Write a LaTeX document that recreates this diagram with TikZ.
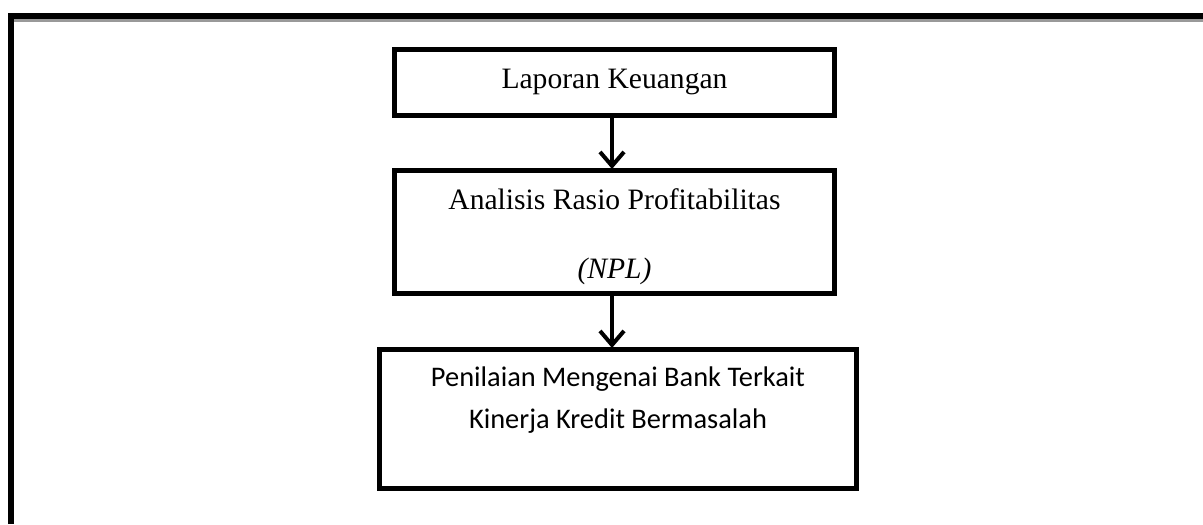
\documentclass[tikz,border=0pt]{standalone}
\usepackage{fontspec}
\setmainfont{Liberation Serif}
\newfontfamily\boxsans{Carlito}
\usetikzlibrary{arrows.meta}
\tikzset{
  flowbox/.style={draw=black,line width=2.5pt,inner sep=0pt,align=center},
  flowarrow/.style={line width=2pt,-{Straight Barb[length=7pt,width=12pt]},shorten >=-0.5pt}
}

\begin{document}
\begin{tikzpicture}[x=0.5pt,y=-0.5pt]
      \useasboundingbox (0,0) rectangle (1203,524);
      \draw[black!40,line width=1.5pt] (12,20.5) -- (1203,20.5);
      \draw[line width=3pt] (11,524) |- (1203,16);
      \node[flowbox,minimum width=220pt,minimum height=33pt,
        font=\fontsize{14.8}{17}\selectfont] (laporan) at (614.5,82.5)
      {Laporan Keuangan};
      \node[flowbox,minimum width=220pt,minimum height=61.5pt,
        font=\fontsize{14.8}{34.5}\selectfont] (analisis) at (614.5,232)
      {\rule{0pt}{15pt}Analisis Rasio Profitabilitas\\\textit{(NPL)}};
      \node[flowbox,minimum width=238.5pt,minimum height=69.5pt,
        font=\boxsans\fontsize{14.2}{21}\selectfont] (penilaian) at (618,419)
      {Penilaian Mengenai Bank Terkait\\Kinerja Kredit Bermasalah\\{}};
      \coordinate (tip) at (612,0);
      \draw[flowarrow] (laporan.south -| tip) -- (analisis.north -| tip);
      \draw[flowarrow] (analisis.south -| tip) -- (penilaian.north -| tip);
    \end{tikzpicture}
\end{document}
